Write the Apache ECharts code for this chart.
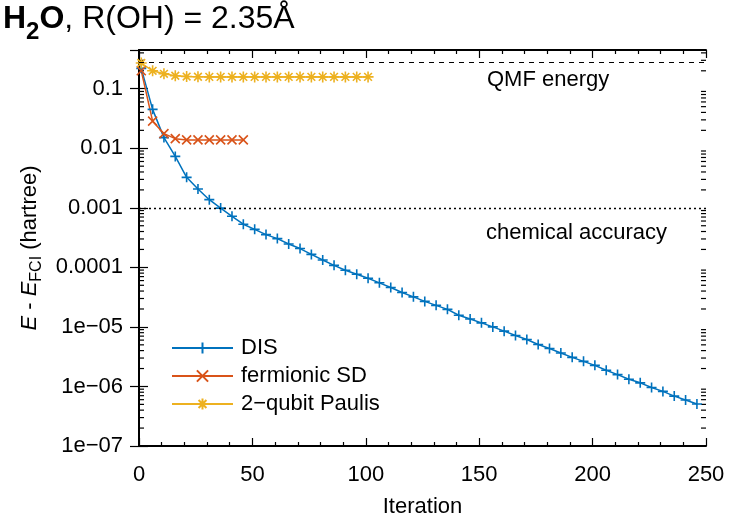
<!DOCTYPE html>
<html>
<head>
<meta charset="utf-8">
<script src="https://cdn.jsdelivr.net/npm/echarts@6/dist/echarts.min.js"></script>
<style>
  html, body { margin: 0; background: #fff; }
  #chart { width: 747px; height: 523px; }
</style>
</head>
<body>
<div id="chart"></div>
<script>
// iterations at which each method was sampled
var iterDIS = [1, 6, 11, 16, 21, 26, 31, 36, 41, 46, 51, 56, 61, 66, 71, 76, 81, 86, 91, 96,
  101, 106, 111, 116, 121, 126, 131, 136, 141, 146, 151, 156, 161, 166, 171, 176, 181, 186, 191, 196,
  201, 206, 211, 216, 221, 226, 231, 236, 241, 246];
var iterSD = [1, 6, 11, 16, 21, 26, 31, 36, 41, 46];
var iterPauli = [1, 6, 11, 16, 21, 26, 31, 36, 41, 46, 51, 56, 61, 66, 71, 76, 81, 86, 91, 96, 101];

// E - E_FCI (hartree)
var errDIS = [0.22, 0.045, 0.0151, 0.0073, 0.00325, 0.00207, 0.00137, 0.00099, 0.00072, 0.00053,
  4.35e-4, 3.55e-4, 3.04e-4, 2.47e-4, 2.07e-4, 1.65e-4, 1.33e-4, 1.08e-4, 8.95e-5, 7.65e-5,
  6.56e-5, 5.5e-5, 4.59e-5, 3.78e-5, 3.2e-5, 2.68e-5, 2.3e-5, 1.97e-5, 1.57e-5, 1.36e-5,
  1.17e-5, 1.0e-5, 8.48e-6, 7.16e-6, 6.14e-6, 5.07e-6, 4.35e-6, 3.65e-6, 3.08e-6, 2.64e-6,
  2.26e-6, 1.87e-6, 1.58e-6, 1.32e-6, 1.15e-6, 9.6e-7, 8.26e-7, 6.89e-7, 5.92e-7, 5.07e-7];
var errSD = [0.2, 0.0285, 0.0176, 0.0145, 0.0138, 0.0138, 0.0138, 0.0138, 0.0138, 0.0138];
var errPauli = [0.27, 0.2, 0.178, 0.165, 0.16, 0.159, 0.158, 0.158, 0.158, 0.158, 0.158,
  0.158, 0.158, 0.158, 0.158, 0.158, 0.158, 0.158, 0.158, 0.158, 0.158];

var qmfEnergy = 0.274;
var chemAccuracy = 0.001;

var yTickValues = [1e-7, 1e-6, 1e-5, 1e-4, 1e-3, 1e-2, 1e-1];
var yTickLabels = ['1e\u221207', '1e\u221206', '1e\u221205', '0.0001', '0.001', '0.01', '0.1'];
var yMin = 1e-7, yMax = 0.447;

var FONT = "'Liberation Sans', Arial, sans-serif";
var colors = ['#0072BD', '#D95319', '#EDB120'];

function toLog(xs, ys) {
  return xs.map(function (x, i) { return [x, Math.log10(ys[i])]; });
}

// minor log ticks 2..9 in each decade
var minorTicks = [];
for (var d = Math.log10(yMin); d < 0; d++) {
  for (var k = 2; k <= 9; k++) {
    var v = d + Math.log10(k);
    if (v < Math.log10(yMax)) minorTicks.push([0, v]);
  }
}

var chart = echarts.init(document.getElementById('chart'));

var yAxisBase = {
  type: 'value',
  min: Math.log10(yMin),
  max: Math.log10(yMax),
  interval: 1,
  splitLine: { show: false },
  axisLine: { show: true, lineStyle: { color: '#000', width: 2 } },
  axisTick: { show: true, inside: true, length: 9, lineStyle: { color: '#000', width: 1.2 } }
};

var xAxisBase = {
  type: 'value',
  min: 0,
  max: 250,
  interval: 50,
  splitLine: { show: false },
  axisLine: { show: true, onZero: false, lineStyle: { color: '#000', width: 2 } },
  axisTick: { show: true, inside: true, length: 8, lineStyle: { color: '#000', width: 1.2 } },
  minorTick: { show: true, splitNumber: 5, length: 4, lineStyle: { color: '#000', width: 1.2 } }
};

function lineSeries(name, data, color, symbol, size) {
  return {
    name: name,
    type: 'line',
    data: data,
    symbol: symbol,
    symbolSize: size,
    showAllSymbol: true,
    lineStyle: { color: color, width: 1.5 },
    itemStyle: { color: color, borderColor: color, borderWidth: 1.6 },
    emphasis: { disabled: true },
    animation: false
  };
}

var plusSym = 'path://M0,5L10,5M5,0L5,10';
var crossSym = 'path://M0,0L10,10M0,10L10,0';
var starSym = 'path://M0,5L10,5M5,0L5,10M1.5,1.5L8.5,8.5M1.5,8.5L8.5,1.5';

var sDIS = lineSeries('DIS', toLog(iterDIS, errDIS), colors[0], plusSym, 10);
sDIS.markLine = {
  silent: true,
  symbol: ['none', 'none'],
  label: { show: false },
  animation: false,
  data: [
    { yAxis: Math.log10(qmfEnergy), lineStyle: { color: '#000', width: 1.2, type: [5, 5] } },
    { yAxis: Math.log10(chemAccuracy), lineStyle: { color: '#000', width: 1.4, type: [2, 3] } }
  ]
};

chart.setOption({
  animation: false,
  textStyle: { fontFamily: FONT },
  title: {
    text: '{b|H}{s|2}{b|O}{n|, R(OH) = 2.35\u00c5}',
    left: 3,
    top: -6,
    padding: 0,
    textStyle: {
      fontWeight: 'normal',
      rich: {
        b: { fontFamily: FONT, fontSize: 32, fontWeight: 'bold', color: '#000', lineHeight: 50, verticalAlign: 'middle' },
        s: { fontFamily: FONT, fontSize: 24, fontWeight: 'bold', color: '#000', lineHeight: 50, verticalAlign: 'bottom' },
        n: { fontFamily: FONT, fontSize: 32, fontWeight: 'normal', color: '#000', lineHeight: 50, verticalAlign: 'middle' }
      }
    }
  },
  grid: { left: 139, right: 41, top: 50, bottom: 74 },
  legend: {
    data: ['DIS', 'fermionic SD', '2\u2212qubit Paulis'],
    orient: 'vertical',
    left: 166,
    top: 332,
    itemWidth: 61,
    itemHeight: 14,
    itemGap: 6,
    textStyle: { fontFamily: FONT, fontSize: 22, color: '#000', padding: [0, 0, 0, 3], lineHeight: 21 }
  },
  xAxis: [
    Object.assign({}, xAxisBase, {
      position: 'bottom',
      name: 'Iteration',
      nameLocation: 'middle',
      nameGap: 50,
      nameTextStyle: { fontFamily: FONT, fontSize: 22, color: '#000' },
      axisLabel: { fontFamily: FONT, fontSize: 22, color: '#000', margin: 18 }
    }),
    Object.assign({}, xAxisBase, { position: 'top', axisLabel: { show: false } })
  ],
  yAxis: [
    Object.assign({}, yAxisBase, {
      position: 'left',
      name: '{i|E} - {i|E}{s|FCI} (hartree)',
      nameLocation: 'middle',
      nameRotate: 90,
      nameGap: 93,
      nameTextStyle: {
        fontFamily: FONT, fontSize: 22, color: '#000',
        rich: {
          i: { fontFamily: FONT, fontSize: 22, fontStyle: 'italic', color: '#000', lineHeight: 30, verticalAlign: 'middle' },
          s: { fontFamily: FONT, fontSize: 16, color: '#000', lineHeight: 30, verticalAlign: 'bottom' }
        }
      },
      axisLabel: {
        fontFamily: FONT, fontSize: 22, color: '#000', margin: 16,
        showMaxLabel: false,
        formatter: function (v) {
          for (var i = 0; i < yTickValues.length; i++) {
            if (Math.abs(Math.log10(yTickValues[i]) - v) < 1e-6) return yTickLabels[i];
          }
          return '';
        }
      }
    }),
    Object.assign({}, yAxisBase, { position: 'right', axisLabel: { show: false } })
  ],
  graphic: [
    { type: 'text', left: 487, top: 69, style: { text: 'QMF energy', font: '22px ' + FONT, fill: '#000' } },
    { type: 'text', left: 486, top: 222, style: { text: 'chemical accuracy', font: '22px ' + FONT, fill: '#000' } }
  ],
  series: [
    {
      type: 'custom',
      silent: true,
      clip: false,
      data: minorTicks,
      renderItem: function (params, api) {
        var y = api.coord([0, api.value(1)])[1];
        var cs = params.coordSys;
        return {
          type: 'group',
          children: [
            { type: 'line', shape: { x1: cs.x, y1: y, x2: cs.x + 5, y2: y }, style: { stroke: '#000', lineWidth: 1.2 } },
            { type: 'line', shape: { x1: cs.x + cs.width, y1: y, x2: cs.x + cs.width - 5, y2: y }, style: { stroke: '#000', lineWidth: 1.2 } }
          ]
        };
      }
    },
    sDIS,
    lineSeries('fermionic SD', toLog(iterSD, errSD), colors[1], crossSym, 9),
    lineSeries('2\u2212qubit Paulis', toLog(iterPauli, errPauli), colors[2], starSym, 11)
  ]
});
</script>
</body>
</html>
